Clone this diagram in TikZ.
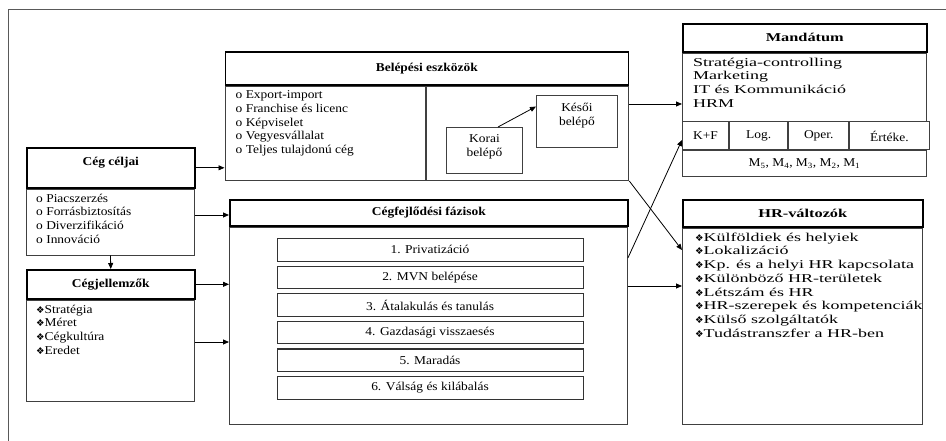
\documentclass[tikz,border=0pt]{standalone}
\usepackage{fontspec}
\setmainfont{Liberation Serif}[FakeStretch=1.12]
\newfontfamily\szeles{Liberation Serif}[FakeStretch=1.5]
\newfontfamily\kozep{Liberation Serif}[FakeStretch=1.36]
\newfontfamily\jelfont{DejaVu Sans}
\usetikzlibrary{arrows.meta,positioning}

\newcommand{\betu}{\fontsize{12}{13.7}\selectfont}
\newcommand{\pont}{{\jelfont\fontsize{9.5}{9}\selectfont ❖}}

\tikzset{
  fej/.style={draw, line width=1.6pt, font=\betu\bfseries, anchor=north west,
    inner sep=0pt, align=center},
  jfej/.style={fej, font=\betu\kozep\bfseries},
  test/.style={draw=black!75, line width=0.9pt, anchor=north west, inner sep=0pt,
    align=center},
  cella/.style={test, minimum height=28pt},
  lista/.style={anchor=north west, inner sep=0pt, align=left},
  jlista/.style={lista, font=\betu\szeles},
  fazis/.style={draw=black!80, line width=1.1pt, anchor=north west, inner sep=0pt,
    minimum width=306pt, minimum height=22.5pt},
  nyil/.style={->, line width=0.8pt}
}

\begin{document}
\begin{tikzpicture}[x=1pt, y=-1pt, >={Triangle[length=6pt,width=5pt]}, font=\betu]
  \useasboundingbox (0,0) rectangle (946,441);
  \draw[black!65, line width=1pt] (8,441) -- (8,10) -- (946,10);

  % bal oldal
  \node[fej, minimum width=168pt, minimum height=40pt] (ccF) at (26,147) {Cég céljai\\\mbox{}};
  \node[test, minimum width=168pt, minimum height=66pt] (ccT) at (ccF.south west) {};
  \node[lista, below right=5pt and 10pt of ccT.north west] (ccL)
    {o Piacszerzés\\o Forrásbiztosítás\\o Diverzifikáció\\o Innováció};

  \node[fej, minimum width=168pt, minimum height=29pt] (cjF) at (26,269) {Cégjellemzők};
  \node[test, minimum width=168pt, minimum height=101pt] (cjT) at (cjF.south west) {};
  \node[lista, below right=5pt and 10pt of cjT.north west] (cjL)
    {\pont Stratégia\\\pont Méret\\\pont Cégkultúra\\\pont Eredet};

  % belepesi eszkozok
  \node[fej, minimum width=403pt, minimum height=33pt] (beF) at (224.5,51) {Belépési eszközök};
  \node[test, minimum width=200.5pt, minimum height=94.5pt] (beB) at (beF.south west) {};
  \node[test, minimum width=202.5pt, minimum height=94.5pt] (beJ) at (beB.north east) {};
  \node[lista, below right=5pt and 11pt of beB.north west] (beL)
    {o Export-import\\o Franchise és licenc\\o Képviselet\\o Vegyesvállalat\\o Teljes tulajdonú cég};
  \node[test, minimum width=76pt, minimum height=46pt] (korai) at (446,127) {Korai\\belépő\\[-4pt]\mbox{}};
  \node[test, minimum width=81pt, minimum height=52pt] (kesoi) at (536,95) {Késői\\belépő\\\mbox{}};

  % cegfejlodesi fazisok
  \node[fej, minimum width=398pt, minimum height=26pt] (cfF) at (229,199) {Cégfejlődési fázisok};
  \node[test, minimum width=398pt, minimum height=197pt] (cfT) at (cfF.south west) {};
  \foreach \nev [count=\i] in {Privatizáció, MVN belépése, Átalakulás és tanulás,
      Gazdasági visszaesés, Maradás, Válság és kilábalás}
    \node[fazis] (f\i) at (276.5,{210.4+27.6*\i}) {\i. \nev};

  % mandatum
  \node[jfej, minimum width=244pt, minimum height=28pt] (maF) at (682,23) {Mandátum};
  \node[test, minimum width=244pt, minimum height=68pt] (maT) at (maF.south west) {};
  \node[jlista, below right=5pt and 11pt of maT.north west] (maL)
    {Stratégia-controlling\\Marketing\\IT és Kommunikáció\\HRM};
  \node[cella, minimum width=46pt] (kf) at (maT.south west) {K+F};
  \node[cella, minimum width=58.5pt] (logi) at (kf.north east) {Log.};
  \node[cella, minimum width=60pt] (oper) at (logi.north east) {Oper.};
  \node[cella, minimum width=79.5pt] (ert) at (oper.north east) {Értéke.};
  \node[test, minimum width=244pt, minimum height=26pt] (mm) at (kf.south west)
    {M\textsubscript{5}, M\textsubscript{4}, M\textsubscript{3}, M\textsubscript{2}, M\textsubscript{1}};

  % HR-valtozok
  \node[jfej, minimum width=240pt, minimum height=27pt] (hrF) at (682,199) {HR-változók};
  \node[test, minimum width=240pt, minimum height=196pt] (hrT) at (hrF.south west) {};
  \node[jlista, below right=5pt and 13pt of hrT.north west] (hrL)
    {\pont Külföldiek és helyiek\\\pont Lokalizáció\\\pont Kp. és a helyi HR kapcsolata\\
     \pont Különböző HR-területek\\\pont Létszám és HR\\\pont HR-szerepek és kompetenciák\\
     \pont Külső szolgáltatók\\\pont Tudástranszfer a HR-ben};

  % nyilak
  \draw[nyil] (ccF.east) -- (ccF.east -| beB.west);
  \draw[nyil] (ccT.east |- 0,215) -- (cfF.west |- 0,215);
  \draw[nyil] (ccT.south) -- (cjF.north);
  \draw[nyil] (cjF.east) -- (cjF.east -| cfT.west);
  \draw[nyil] (cjT.east |- 0,342) -- (cfT.west |- 0,342);
  \draw[nyil] (korai.60) -- (kesoi.160);
  \draw[nyil] (beJ.east |- 0,104) -- (maT.west |- 0,104);
  \draw[nyil] (beJ.south east) -- (hrT.west |- 0,250);
  \draw[nyil] (cfT.east |- 0,258) -- (kf.west |- 0,140);
  \draw[nyil] (cfT.east |- 0,286) -- (hrT.west |- 0,286);
\end{tikzpicture}
\end{document}
